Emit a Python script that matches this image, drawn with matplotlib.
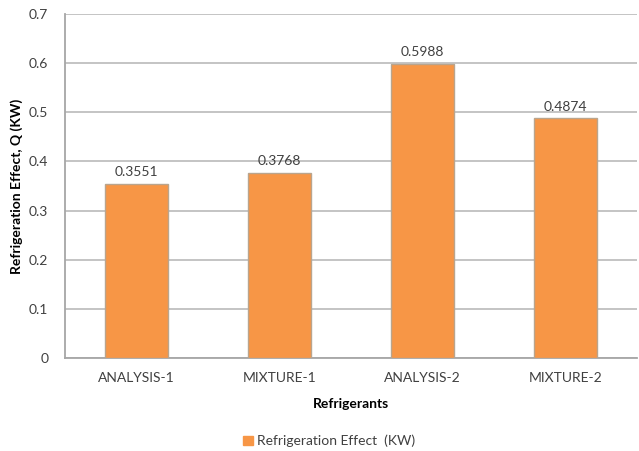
import matplotlib
matplotlib.use("Agg")
import matplotlib.pyplot as plt
from matplotlib.patches import Patch

categories = ["ANALYSIS-1", "MIXTURE-1", "ANALYSIS-2", "MIXTURE-2"]
values = [0.3551, 0.3768, 0.5988, 0.4874]
y_ticks = [0, 0.1, 0.2, 0.3, 0.4, 0.5, 0.6, 0.7]
y_tick_labels = ["0", "0.1", "0.2", "0.3", "0.4", "0.5", "0.6", "0.7"]
series_name = "Refrigeration Effect  (KW)"

plt.rcParams["font.family"] = ["Lato", "DejaVu Sans"]
text_color = "#404040"
bar_color = "#F79646"
grid_color = "#BFBFBF"

fig = plt.figure(figsize=(6.39, 4.51), dpi=100)
ax = fig.add_axes([0.1017, 0.206, 0.895, 0.763])

x = list(range(len(categories)))
bars = ax.bar(x, values, width=0.44, color=bar_color, edgecolor="#B9A58E",
              linewidth=1.0, zorder=3)
for xi, v in zip(x, values):
    ax.text(xi, v + 0.012, f"{v:.4f}", ha="center", va="bottom",
            fontsize=10, color=text_color)

ax.set_xlim(-0.5, len(categories) - 0.5)
ax.set_ylim(0, 0.7)
ax.set_yticks(y_ticks)
ax.set_yticklabels(y_tick_labels)
ax.set_xticks(x)
ax.set_xticklabels(categories)
ax.tick_params(axis="both", length=0, labelsize=10, colors=text_color)
ax.tick_params(axis="x", pad=10)
ax.tick_params(axis="y", pad=12)
ax.yaxis.grid(True, color=grid_color, linewidth=1.3, zorder=0)
ax.set_axisbelow(True)
for side in ["top", "right"]:
    ax.spines[side].set_visible(False)
ax.spines["left"].set_color("#A6A6A6")
ax.spines["left"].set_linewidth(1.3)
ax.spines["bottom"].set_color("#A6A6A6")
ax.spines["bottom"].set_linewidth(1.3)

ax.set_ylabel("Refrigeration Effect, Q (KW)", fontsize=10, fontweight="bold",
              color="black", labelpad=4)
ax.set_xlabel("Refrigerants", fontsize=10, fontweight="bold", color="black",
              labelpad=10)

handle = Patch(facecolor=bar_color, edgecolor=bar_color)
fig.legend([handle], [series_name], loc="center", bbox_to_anchor=(0.515, 0.022),
           frameon=False, fontsize=10, handlelength=0.7, handleheight=0.7,
           handletextpad=0.3, labelcolor=text_color)

fig.savefig("out.png", dpi=100)
